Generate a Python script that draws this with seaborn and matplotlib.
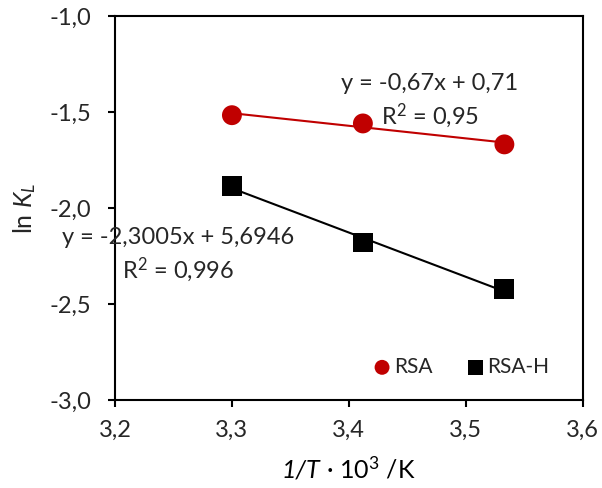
import matplotlib
matplotlib.use("Agg")
import matplotlib.pyplot as plt
from matplotlib.offsetbox import TextArea, HPacker, AnchoredOffsetbox
import seaborn as sns
import pandas as pd

# data
x_vals = [3.300, 3.412, 3.533]
rsa = [-1.516, -1.559, -1.668]
rsa_h = [-1.884, -2.179, -2.422]
series_names = ["RSA", "RSA-H"]
colors = ["#C00000", "#000000"]
markers = ["o", "s"]
eq_texts = [r"y = -0,67x + 0,71" + "\n" + r"R$^{\mathrm{2}}$ = 0,95",
            r"y = -2,3005x + 5,6946" + "\n" + r"R$^{\mathrm{2}}$ = 0,996"]
x_ticks = [3.2, 3.3, 3.4, 3.5, 3.6]
x_ticklabels = ["3,2", "3,3", "3,4", "3,5", "3,6"]
y_ticks = [-3.0, -2.5, -2.0, -1.5, -1.0]
y_ticklabels = ["-3,0", "-2,5", "-2,0", "-1,5", "-1,0"]
xlabel_italic = "1/T"
xlabel_rest = r" · 10$^{\mathrm{3}}$ /K"
ylabel = r"ln $K_L$"

sns.set_style("white")
plt.rcParams["font.family"] = ["Lato", "DejaVu Sans"]
plt.rcParams["mathtext.fontset"] = "custom"
plt.rcParams["mathtext.rm"] = "Lato"
plt.rcParams["mathtext.it"] = "Lato:italic"
plt.rcParams["mathtext.default"] = "it"

df = pd.DataFrame({
    "x": x_vals * 2,
    "y": rsa + rsa_h,
    "series": [series_names[0]] * 3 + [series_names[1]] * 3,
})

fig = plt.figure(figsize=(6.02, 4.88), dpi=100)
ax = fig.add_axes([0.191, 0.180, 0.777, 0.787])

for name, c, m in zip(series_names, colors, markers):
    sub = df[df["series"] == name]
    sns.regplot(data=sub, x="x", y="y", ax=ax, ci=None, truncate=True,
                scatter=False, line_kws=dict(color=c, lw=1.5, zorder=2))
    sns.scatterplot(data=sub, x="x", y="y", ax=ax, color=c, marker=m,
                    s=205, edgecolor="none", zorder=3, label=name)

ax.text(3.469, -1.447, eq_texts[0], ha="center", va="center", fontsize=17,
        linespacing=1.32)
ax.text(3.254, -2.249, eq_texts[1], ha="center", va="center", fontsize=17,
        linespacing=1.32)

ax.set_xlim(3.2, 3.6)
ax.set_ylim(-3.0, -1.0)
ax.set_xticks(x_ticks)
ax.set_xticklabels(x_ticklabels, fontsize=17)
ax.set_yticks(y_ticks)
ax.set_yticklabels(y_ticklabels, fontsize=17)
ax.tick_params(axis="both", direction="out", length=5, width=1.5, color="black",
               bottom=True, left=True, top=False, right=False)
ax.tick_params(axis="x", pad=9)
ax.tick_params(axis="y", pad=12)

for sp in ax.spines.values():
    sp.set_color("black")
    sp.set_linewidth(1.5)

# x label: italic "1/T" followed by upright rest
part1 = TextArea(xlabel_italic, textprops=dict(fontsize=18, fontstyle="italic", color="black"))
part2 = TextArea(xlabel_rest, textprops=dict(fontsize=18, color="black"))
pack = HPacker(children=[part1, part2], align="baseline", pad=0, sep=0)
xl = AnchoredOffsetbox(loc="center", child=pack, frameon=False, pad=0, borderpad=0,
                       bbox_to_anchor=(0.5, -0.178), bbox_transform=ax.transAxes)
ax.add_artist(xl)
ax.set_xlabel("")
ax.set_ylabel(ylabel, fontsize=18, labelpad=8)

leg = ax.legend(loc="lower right", bbox_to_anchor=(0.968, 0.012), ncol=2,
                frameon=False, fontsize=15, handlelength=0.9,
                handletextpad=0.12, columnspacing=1.6, markerscale=0.75)

fig.savefig("out.png", dpi=100)
